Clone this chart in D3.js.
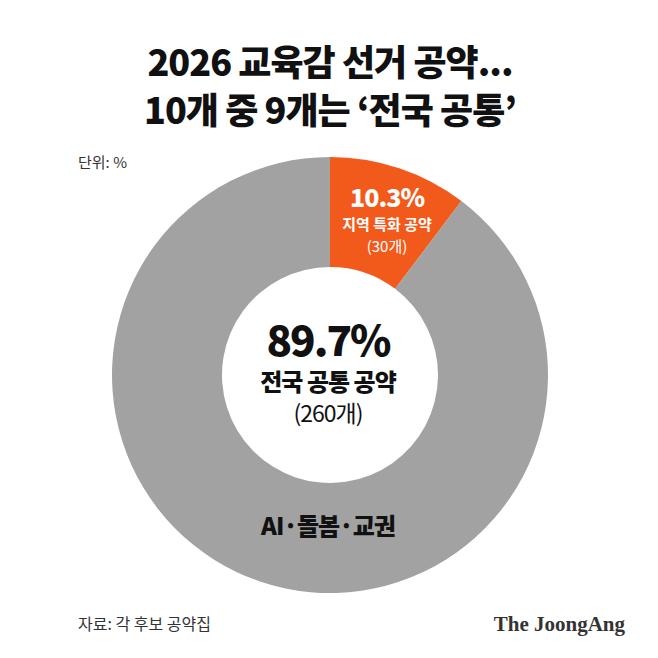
<!DOCTYPE html>
<html><head><meta charset="utf-8">
<script src="https://cdn.jsdelivr.net/npm/d3@7"></script>
<style>body{margin:0;background:#fff}text{font-family:"Noto Sans CJK KR",sans-serif}</style>
</head><body><div id="chart"></div>
<script>
const categories = ["지역 특화 공약", "전국 공통 공약"];
const shares = [10.3, 89.7];
const counts = [30, 260];
const colors = ["#f25a1c", "#a2a2a2"];

const W = 658, H = 658, cx = 330, cy = 375;
const svg = d3.select("#chart").append("svg").attr("width", W).attr("height", H);

// title
[["2026 교육감 선거 공약...", 76], ["10개 중 9개는 ‘전국 공통’", 124]].forEach(([t, y]) => {
  svg.append("text").attr("x", cx).attr("y", y).attr("text-anchor", "middle")
    .style("font-size", "36px").style("font-weight", 900).style("letter-spacing", "-1px")
    .attr("fill", "#111").text(t);
});
svg.append("text").attr("x", 78).attr("y", 168).style("font-size", "15px").attr("fill", "#333").text("단위: %");

const pie = d3.pie().sort(null).value(d => d);
const arc = d3.arc().innerRadius(108).outerRadius(218);
const g = svg.append("g").attr("transform", `translate(${cx},${cy})`);
g.selectAll("path").data(pie(shares)).enter().append("path")
  .attr("d", arc).attr("fill", (d, i) => colors[i]);

// orange label
const lab = svg.append("g").attr("fill", "#fff").attr("text-anchor", "middle");
lab.append("text").attr("x", 387).attr("y", 207).style("font-size", "25px").style("font-weight", 800).style("letter-spacing", "-1px").text(shares[0] + "%");
lab.append("text").attr("x", 387).attr("y", 230).style("font-size", "15px").style("font-weight", 700).text(categories[0]);
lab.append("text").attr("x", 387).attr("y", 252).style("font-size", "15px").text(`(${counts[0]}개)`);

// center label
const c = svg.append("g").attr("fill", "#111").attr("text-anchor", "middle");
c.append("text").attr("x", cx - 2).attr("y", 356).style("font-size", "42px").style("font-weight", 900).style("letter-spacing", "-2px").text(shares[1] + "%");
c.append("text").attr("x", cx - 2).attr("y", 391).style("font-size", "24px").style("font-weight", 800).style("letter-spacing", "-1px").text(categories[1]);
c.append("text").attr("x", cx - 2).attr("y", 422).style("font-size", "23px").style("letter-spacing", "-1px").text(`(${counts[1]}개)`);
c.append("text").attr("x", cx - 2).attr("y", 535).style("font-size", "24px").style("font-weight", 800).style("letter-spacing", "-1px").text("AI·돌봄·교권");

svg.append("text").attr("x", 78).attr("y", 630).style("font-size", "16px").attr("fill", "#333").text("자료: 각 후보 공약집");
svg.append("text").attr("x", 625).attr("y", 631).attr("text-anchor", "end")
  .style("font-family", "'Liberation Serif',serif").style("font-size", "21px").style("font-weight", 700).attr("fill", "#333").text("The JoongAng");
</script></body></html>
